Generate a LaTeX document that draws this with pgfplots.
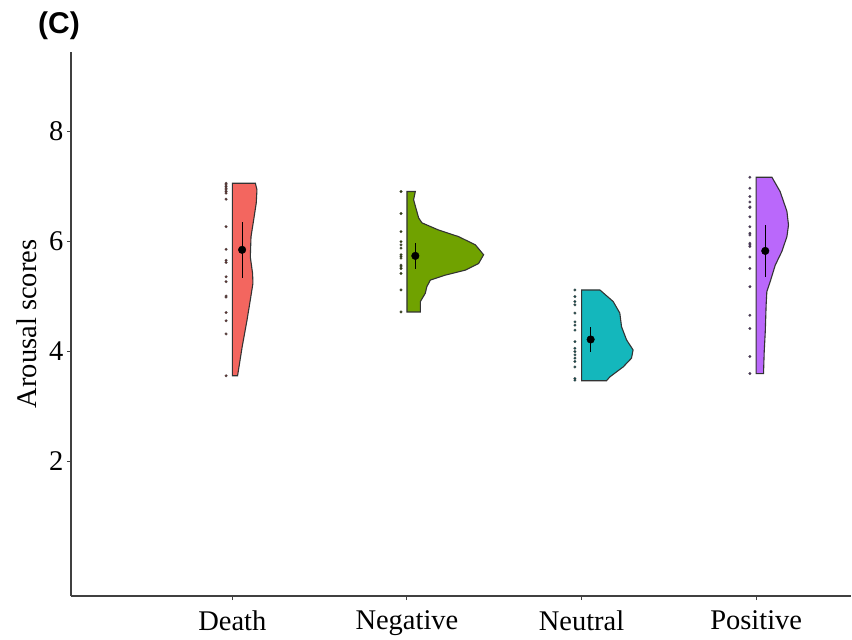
\documentclass[border=0pt]{standalone}
\usepackage{fontspec}
\setmainfont{Liberation Serif}
\newfontfamily\arialfont{Liberation Sans}
\usepackage{pgfplots}
\pgfplotsset{compat=1.18}
\definecolor{cDeath}{HTML}{F3665F}
\definecolor{cNeg}{HTML}{70A200}
\definecolor{cNeu}{HTML}{14B7BC}
\definecolor{cPos}{HTML}{BA68FB}
\begin{document}
\begin{tikzpicture}
\begin{axis}[
  scale only axis, width=780pt, height=544.3pt,
  xmin=0.076, xmax=4.543, ymin=-0.4545, ymax=9.442,
  axis x line*=bottom, axis y line*=left,
  axis line style={line width=1.3pt, black!75},
  xtick={1,2,3,4}, xticklabels={Death,Negative,Neutral,Positive},
  ytick={2,4,6,8},
  tick align=outside, major tick length=4pt,
  tick style={line width=1pt, black!75},
  ticklabel style={font=\fontsize{28.5}{34}\selectfont},
  xticklabel style={yshift=-7pt},
  /pgf/number format/assume math mode=true,
  ylabel={Arousal scores},
  ylabel style={font=\fontsize{28.5}{34}\selectfont, at={(axis description cs:-0.0564,0.5)}, anchor=center},
  clip=false,
]
% ---- violins (half, to the right of category) ----
\addplot[fill=cDeath, draw=black!80, line width=1.1pt] coordinates {
 (1,7.05) (1.132,7.05) (1.141,6.93) (1.137,6.69) (1.122,6.38) (1.107,6.08) (1.103,5.71)
 (1.116,5.41) (1.118,5.23) (1.103,4.93) (1.084,4.56) (1.056,4.07) (1.030,3.55) (1,3.55)} -- cycle;
\addplot[fill=cNeg, draw=black!80, line width=1.1pt] coordinates {
 (2,6.90) (2.048,6.90) (2.038,6.75) (2.067,6.42) (2.086,6.33) (2.181,6.20) (2.296,6.08)
 (2.392,5.93) (2.439,5.75) (2.410,5.59) (2.334,5.47) (2.220,5.38) (2.134,5.29) (2.114,5.17)
 (2.105,5.05) (2.077,4.90) (2.077,4.71) (2,4.71)} -- cycle;
\addplot[fill=cNeu, draw=black!80, line width=1.1pt] coordinates {
 (3,5.11) (3.105,5.11) (3.181,4.90) (3.219,4.69) (3.229,4.44) (3.258,4.20) (3.295,4.02)
 (3.286,3.87) (3.238,3.71) (3.162,3.53) (3.143,3.46) (3,3.46)} -- cycle;
\addplot[fill=cPos, draw=black!80, line width=1.1pt] coordinates {
 (4,7.16) (4.090,7.16) (4.137,6.90) (4.176,6.54) (4.185,6.29) (4.176,6.08) (4.147,5.81)
 (4.109,5.56) (4.080,5.26) (4.061,5.08) (4.057,4.84) (4.052,4.35) (4.046,3.99) (4.042,3.59) (4,3.59)} -- cycle;
% ---- raw points ----
\addplot[only marks, mark=*, mark size=1.3pt, mark options={fill=cDeath!40!black, draw=black!70, line width=0.3pt}] coordinates {
 (0.964,7.05) (0.964,7.02) (0.964,6.99) (0.964,6.96) (0.964,6.93) (0.964,6.90) (0.964,6.87)
 (0.964,6.76) (0.964,6.26) (0.964,5.85) (0.964,5.65) (0.964,5.61) (0.964,5.35) (0.964,5.26)
 (0.964,5.00) (0.964,4.98) (0.964,4.70) (0.964,4.55) (0.964,4.31) (0.964,3.55)};
\addplot[only marks, mark=*, mark size=1.3pt, mark options={fill=cNeg!40!black, draw=black!70, line width=0.3pt}] coordinates {
 (1.966,6.90) (1.966,6.50) (1.966,6.17) (1.966,5.99) (1.966,5.93) (1.966,5.87) (1.966,5.75)
 (1.966,5.72) (1.966,5.69) (1.966,5.56) (1.966,5.53) (1.966,5.50) (1.966,5.41) (1.966,5.11) (1.966,4.71)};
\addplot[only marks, mark=*, mark size=1.3pt, mark options={fill=cNeu!40!black, draw=black!70, line width=0.3pt}] coordinates {
 (2.962,5.11) (2.962,4.99) (2.962,4.90) (2.962,4.84) (2.962,4.69) (2.962,4.53) (2.962,4.47)
 (2.962,4.38) (2.962,4.17) (2.962,4.05) (2.962,3.99) (2.962,3.93) (2.962,3.87) (2.962,3.81)
 (2.962,3.71) (2.962,3.50) (2.962,3.47)};
\addplot[only marks, mark=*, mark size=1.3pt, mark options={fill=cPos!40!black, draw=black!70, line width=0.3pt}] coordinates {
 (3.964,7.16) (3.964,6.96) (3.964,6.81) (3.964,6.71) (3.964,6.62) (3.964,6.61) (3.964,6.44)
 (3.964,6.26) (3.964,6.14) (3.964,6.11) (3.964,5.96) (3.964,5.93) (3.964,5.90) (3.964,5.71)
 (3.964,5.50) (3.964,5.17) (3.964,4.65) (3.964,4.41) (3.964,3.90) (3.964,3.59)};
% ---- means with error bars ----
\addplot[only marks, mark=*, mark size=3.8pt, black,
  error bars/.cd, y dir=both, y explicit, error mark=none,
  error bar style={line width=1.1pt, black}] coordinates {
 (1.056,5.84) +- (0,0.51)
 (2.048,5.73) +- (0,0.23)
 (3.052,4.21) +- (0,0.22)
 (4.052,5.82) +- (0,0.47)};
\node[font=\arialfont\bfseries\fontsize{30}{36}\selectfont] at (rel axis cs:-0.0154,1.0472) {(C)};
\coordinate (bbl) at (rel axis cs:-0.0910,-0.0808);
\coordinate (btr) at (rel axis cs:1.00128,1.0950);
\end{axis}
\pgfresetboundingbox
\useasboundingbox (bbl) rectangle (btr);
\end{tikzpicture}
\end{document}
